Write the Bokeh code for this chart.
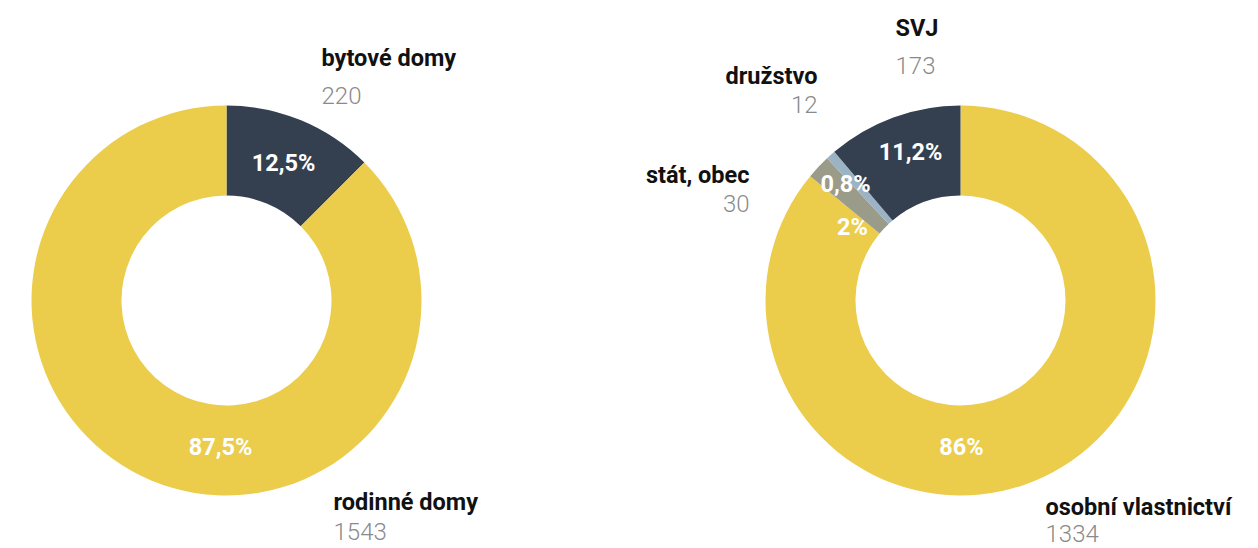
import math
from bokeh.plotting import figure
from bokeh.models import ColumnDataSource, Range1d
from bokeh.core.properties import value
from bokeh.embed import file_html
from bokeh.resources import INLINE

# ---- data ----
left_names = ["bytové domy", "rodinné domy"]
left_counts = [220, 1543]
left_pct = [12.5, 87.5]

right_names = ["osobní vlastnictví", "stát, obec", "družstvo", "SVJ"]
right_counts = [1334, 30, 12, 173]
right_pct = [86, 2, 0.8, 11.2]

# ---- styles / layout ----
left_colors = ["#344050", "#ebcd4b"]
right_colors = ["#ebcd4b", "#9a9b89", "#9bb3c4", "#344050"]

W, H = 1258, 548
R_OUT, R_IN = 195, 105
left_center = (226, 300)
right_center = (960, 300)
TXT_SHIFT = 9  # baseline correction of the svg text renderer

# percent label anchors (dx, baseline dy) relative to donut centre, pixels
left_pct_pos = [(57, -129), (-6, 155)]
right_pct_pos = [(1, 155), (-108, -65), (-115, -108), (-50, -140)]

# name / count label anchors (x, name baseline, count baseline, align), pixels
left_lab_pos = [(321, 66, 104, "left"), (333, 510, 540, "left")]
right_lab_pos = [(1045, 515, 542, "left"), (749, 183, 212, "right"),
                 (817, 84, 113, "right"), (895, 36, 74, "left")]


def fmt_pct(v):
    s = ("%g" % v).replace(".", ",")
    return s + "%"


def ty(py):
    return H - py + TXT_SHIFT


p = figure(width=W, height=H, output_backend="svg", toolbar_location=None,
           x_range=Range1d(0, W), y_range=Range1d(0, H),
           min_border=0, border_fill_color="white", background_fill_color="white")
p.axis.visible = False
p.grid.visible = False
p.outline_line_color = None


def donut(center, pct, colors, names, counts, pct_pos, lab_pos):
    cx, cy = center
    total = sum(pct)
    starts, ends = [], []
    c = 0.0
    for v in pct:
        starts.append(math.pi / 2 - 2 * math.pi * c / total)
        c += v
        ends.append(math.pi / 2 - 2 * math.pi * c / total)
    src = ColumnDataSource(dict(x=[cx] * len(pct), y=[H - cy] * len(pct),
                                start=starts, end=ends, color=colors))
    p.annular_wedge(x="x", y="y", inner_radius=R_IN, outer_radius=R_OUT,
                    start_angle="start", end_angle="end", direction="clock",
                    fill_color="color", line_color=None, source=src)
    # percentage labels
    psrc = ColumnDataSource(dict(
        x=[cx + d[0] for d in pct_pos],
        y=[ty(cy + d[1]) for d in pct_pos],
        t=[fmt_pct(v) for v in pct]))
    p.text(x="x", y="y", text="t", source=psrc, text_color="white",
           text_font=value("Roboto"), text_font_style="bold",
           text_font_size="23.5px", text_align="center", text_baseline="alphabetic")
    # names and counts
    for name, cnt, (lx, nb, cb, al) in zip(names, counts, lab_pos):
        p.text(x=[lx], y=[ty(nb)], text=[name], text_color="#111111",
               text_font=value("Roboto"), text_font_style="bold",
               text_font_size="23.5px", text_align=al, text_baseline="alphabetic")
        p.text(x=[lx], y=[ty(cb)], text=[str(cnt)], text_color="#8a8a8a",
               text_font=value("Roboto Light"), text_font_style="normal",
               text_font_size="24px", text_align=al, text_baseline="alphabetic")


donut(left_center, left_pct, left_colors, left_names, left_counts, left_pct_pos, left_lab_pos)
donut(right_center, right_pct, right_colors, right_names, right_counts, right_pct_pos, right_lab_pos)

open("out.html", "w").write(file_html(p, INLINE))
